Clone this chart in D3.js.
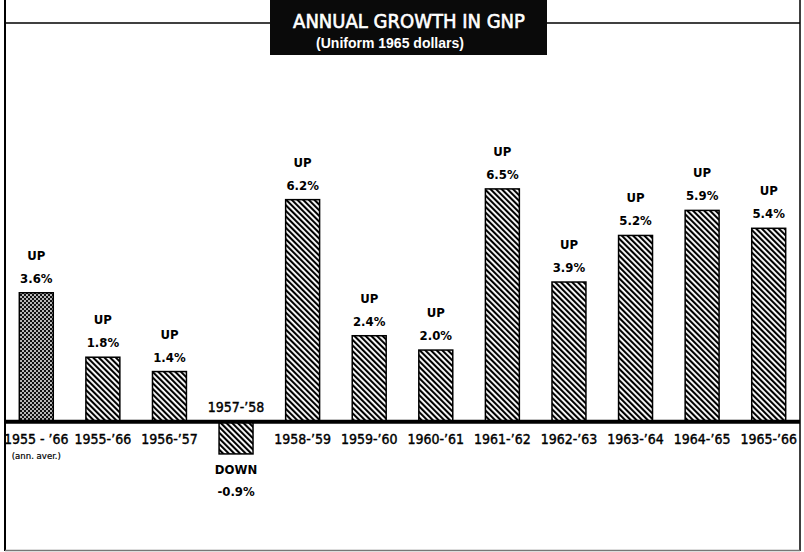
<!DOCTYPE html>
<html>
<head>
<meta charset="utf-8">
<script src="https://cdn.jsdelivr.net/npm/d3@7"></script>
<style>
  body { margin: 0; background: #fff; }
  text { font-family: "DejaVu Sans Condensed", "DejaVu Sans", sans-serif; }
</style>
</head>
<body>
<svg id="chart" width="804" height="552"></svg>
<script>
// periods and annual change of GNP, percent
const periods = ["1955-'66 avg", "1955-'66", "1956-'57", "1957-'58", "1958-'59", "1959-'60",
                 "1960-'61", "1961-'62", "1962-'63", "1963-'64", "1964-'65", "1965-'66"];
const periodLabels = ["1955 - \u201966", "1955-\u201966", "1956-\u201957", "1957-\u201958", "1958-\u201959", "1959-\u201960",
                      "1960-\u201961", "1961-\u201962", "1962-\u201963", "1963-\u201964", "1964-\u201965", "1965-\u201966"];
const growth = [3.6, 1.8, 1.4, -0.9, 6.2, 2.4, 2.0, 6.5, 3.9, 5.2, 5.9, 5.4];
const valueLabels = ["3.6%", "1.8%", "1.4%", "-0.9%", "6.2%", "2.4%", "2.0%", "6.5%", "3.9%", "5.2%", "5.9%", "5.4%"];

function draw() {
    const svg = d3.select("#chart");

    const x = d3.scaleBand().domain(periods).range([3, 802]).paddingInner(0.49).paddingOuter(0.245);
    const y = d3.scaleLinear().domain([-1, 7]).range([457.5, 171]);

    // fill patterns
    const defs = svg.append("defs");
    const hatch = defs.append("pattern")
        .attr("id", "hatch")
        .attr("patternUnits", "userSpaceOnUse")
        .attr("width", 4).attr("height", 4)
        .attr("patternTransform", "rotate(-45)");
    hatch.append("rect").attr("width", 4).attr("height", 4).attr("fill", "#fff");
    hatch.append("line").attr("x1", 1).attr("y1", 0).attr("x2", 1).attr("y2", 4)
        .attr("stroke", "#000").attr("stroke-width", 2.2);

    const dots = defs.append("pattern")
        .attr("id", "dots")
        .attr("patternUnits", "userSpaceOnUse")
        .attr("width", 4).attr("height", 4);
    dots.append("rect").attr("width", 4).attr("height", 4).attr("fill", "#111");
    dots.append("circle").attr("cx", 1).attr("cy", 1).attr("r", 0.95).attr("fill", "#fff");
    dots.append("circle").attr("cx", 3).attr("cy", 3).attr("r", 0.95).attr("fill", "#fff");

    // frame
    svg.append("line").attr("x1", 5).attr("y1", 0).attr("x2", 5).attr("y2", 551)
        .attr("stroke", "#000").attr("stroke-width", 2);
    svg.append("line").attr("x1", 800).attr("y1", 0).attr("x2", 800).attr("y2", 551)
        .attr("stroke", "#000").attr("stroke-width", 1.5);
    svg.append("line").attr("x1", 5).attr("y1", 550.5).attr("x2", 800).attr("y2", 550.5)
        .attr("stroke", "#777").attr("stroke-width", 1.5);
    svg.append("line").attr("x1", 5).attr("y1", 23).attr("x2", 800).attr("y2", 23)
        .attr("stroke", "#000").attr("stroke-width", 1.5);

    // title box
    svg.append("rect").attr("x", 270).attr("y", 0).attr("width", 277).attr("height", 55).attr("fill", "#0a0a0a");
    svg.append("text").attr("x", 409).attr("y", 28).attr("text-anchor", "middle")
        .attr("fill", "#fff").attr("font-size", "20px")
        .attr("stroke", "#fff").attr("stroke-width", 0.6)
        .text("ANNUAL GROWTH IN GNP");
    svg.append("text").attr("x", 390).attr("y", 48).attr("text-anchor", "middle")
        .attr("fill", "#fff").attr("font-size", "14px").attr("font-weight", "bold")
        .style("font-family", "'Liberation Sans', Arial, sans-serif")
        .text("(Uniform 1965 dollars)");

    // bars
    svg.selectAll(".bar")
        .data(growth)
        .join("rect")
        .attr("class", "bar")
        .attr("x", (d, i) => x(periods[i]))
        .attr("y", d => y(Math.max(0, d)))
        .attr("width", x.bandwidth())
        .attr("height", d => Math.abs(y(d) - y(0)))
        .attr("fill", (d, i) => i === 0 ? "url(#dots)" : "url(#hatch)")
        .attr("stroke", "#000")
        .attr("stroke-width", 1.5);

    // zero line
    svg.append("line").attr("x1", 5).attr("y1", y(0)).attr("x2", 800).attr("y2", y(0))
        .attr("stroke", "#000").attr("stroke-width", 4);

    const cx = i => x(periods[i]) + x.bandwidth() / 2;

    // direction and value labels
    const lab = svg.append("g").attr("font-size", "13px").attr("font-weight", "bold")
        .attr("text-anchor", "middle").attr("fill", "#000");
    growth.forEach((d, i) => {
        if (d >= 0) {
            lab.append("text").attr("x", cx(i)).attr("y", y(d) - 33).text("UP");
            lab.append("text").attr("x", cx(i)).attr("y", y(d) - 10).text(valueLabels[i]);
        } else {
            lab.append("text").attr("x", cx(i)).attr("y", y(d) + 20).text("DOWN");
            lab.append("text").attr("x", cx(i)).attr("y", y(d) + 42).text(valueLabels[i]);
        }
    });

    // period labels
    const per = svg.append("g").attr("font-size", "14px").attr("text-anchor", "middle")
        .attr("fill", "#000").attr("stroke", "#000").attr("stroke-width", 0.4);
    periodLabels.forEach((t, i) => {
        per.append("text")
            .attr("x", cx(i))
            .attr("y", growth[i] >= 0 ? y(0) + 22 : y(0) - 10)
            .text(t);
    });
    per.append("text").attr("x", cx(0)).attr("y", y(0) + 37).attr("font-size", "9.5px")
        .attr("stroke-width", 0.2).text("(ann. aver.)");
}

draw();
</script>
</body>
</html>
